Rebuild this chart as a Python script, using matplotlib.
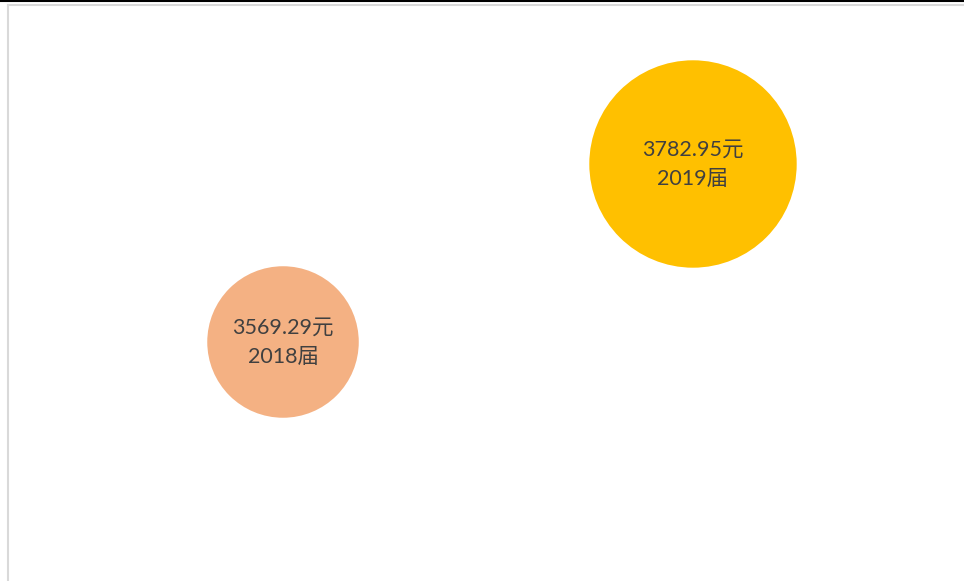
import matplotlib.pyplot as plt
from matplotlib.lines import Line2D

plt.rcParams['font.family'] = ['Lato', 'Noto Sans CJK SC', 'DejaVu Sans']

# 数据
years = [2018, 2019]
salary = [3569.29, 3782.95]
bubble = [11900, 22300]   # 气泡大小
colors = ["#F4B183", "#FFC000"]

W, H = 964, 581
fig = plt.figure(figsize=(W / 100, H / 100), dpi=100)
ax = fig.add_axes([7.5 / W, 0, 1 - 7.5 / W, (H - 4.5) / H])

ax.scatter(years, salary, s=bubble, c=colors, linewidths=0, zorder=2)
for x, y in zip(years, salary):
    ax.text(x, y, f"{y:.2f}元\n{x}届", ha="center", va="center",
            fontsize=15.5, color="#404040", linespacing=1.6, zorder=3)

ax.set_xlim(2017.328, 2019.661)
ax.set_ylim(3282.4, 3974.4)
ax.set_xticks([])
ax.set_yticks([])
for side in ["right", "bottom"]:
    ax.spines[side].set_visible(False)
for side in ["left", "top"]:
    ax.spines[side].set_color("#D9D9D9")
    ax.spines[side].set_linewidth(1.5)

# 顶部黑线
fig.add_artist(Line2D([0, 1], [1 - 1 / H, 1 - 1 / H], color="black",
                      linewidth=1.5, transform=fig.transFigure))

fig.savefig("out.png", dpi=100)
